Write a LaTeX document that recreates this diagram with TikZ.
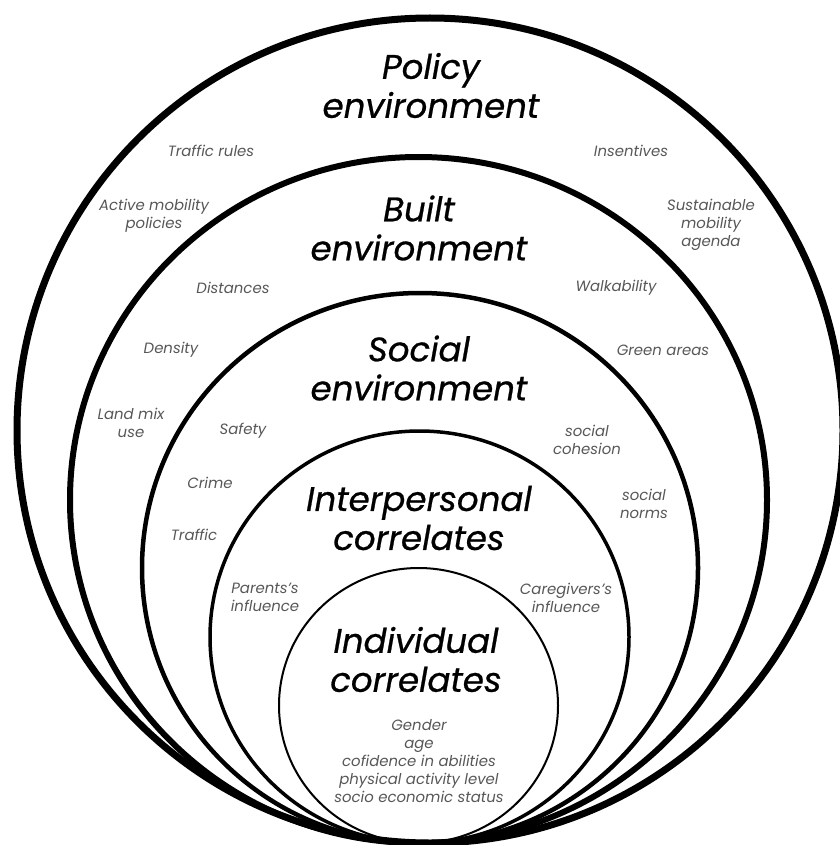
\documentclass[tikz,border=0pt]{standalone}
\usepackage{fontspec}
\setmainfont{Poppins}
\newfontfamily\ringtitlefont{Poppins}[ItalicFeatures={FakeBold=0.7}]
\begin{document}
\begin{tikzpicture}[x=1pt,y=-1pt,
  title/.style={font=\ringtitlefont\fontsize{34}{39}\selectfont\itshape, align=center, text=black, inner sep=0pt},
  item/.style={font=\fontsize{14.9}{18}\selectfont\itshape, align=center, text=black!66, inner sep=0pt}]
\useasboundingbox (0,0) rectangle (839,845);
% nested rings, all touching at the bottom
\draw[line width=7pt]   (430,430.5) ellipse [x radius=413pt,   y radius=412.5pt];
\draw[line width=6pt]   (418.5,500) ellipse [x radius=348.5pt, y radius=343pt];
\draw[line width=4.5pt] (420,568)   ellipse [x radius=278pt,   y radius=275pt];
\draw[line width=3.5pt] (419.5,637) ellipse [x radius=209.5pt, y radius=206pt];
\draw[line width=2pt]   (418.5,705.5) ellipse [x radius=139.5pt, y radius=137.5pt];

% ring titles
\node[title] (policy) at (431,85.5) {Policy\\environment};
\node[title] (built) at (419,228) {Built\\environment};
\node[title] (social) at (419,368) {Social\\environment};
\node[title] (inter) at (419,518) {Interpersonal\\correlates};
\node[title] (indiv) at (416,659.5) {Individual\\correlates};

% policy environment
\node[item] (traffrules) at (211,151) {Traffic rules};
\node[item] (insent) at (631,151) {Insentives};
\node[item] (activemob) at (154,216) {Active mobility\\policies};
\node[item] (sustmob) at (711,225) {Sustainable\\mobility\\agenda};

% built environment
\node[item] (dist) at (233,288) {Distances};
\node[item] (walk) at (616,288) {Walkability};
\node[item] (dens) at (171,350) {Density};
\node[item] (green) at (663,350) {Green areas};
\node[item] (landmix) at (131,422.5) {Land mix\\use};

% social environment
\node[item] (safety) at (243,431) {Safety};
\node[item] (cohesion) at (587,440) {social\\cohesion};
\node[item] (crime) at (210,483) {Crime};
\node[item] (norms) at (644,503.5) {social\\norms};
\node[item] (traffic) at (194,535) {Traffic};

% interpersonal correlates
\node[item] (parents) at (265,597.5) {Parents's\\influence};
\node[item] (caregivers) at (566,597.5) {Caregivers's\\influence};

% individual correlates
\node[item] (indivlist) at (419,761) {Gender\\age\\cofidence in abilities\\physical activity level\\socio economic status};
\end{tikzpicture}
\end{document}
